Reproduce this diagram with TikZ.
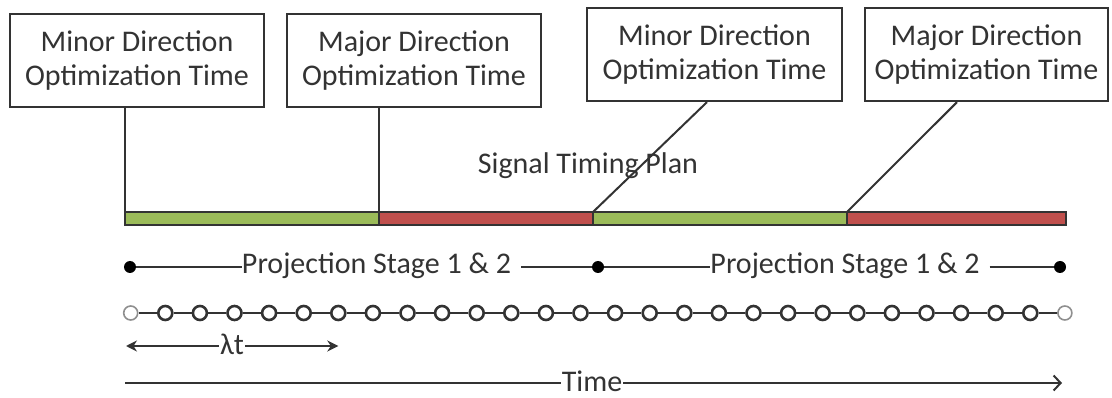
\documentclass[tikz,border=0pt]{standalone}
\usepackage{fontspec}
\setmainfont{Carlito}
\usetikzlibrary{arrows.meta,calc}
\definecolor{ink}{HTML}{333333}
\definecolor{phasegreen}{HTML}{9BBB59}
\definecolor{phasered}{HTML}{C0504D}
\begin{document}
\begin{tikzpicture}[x=1pt,y=-1pt,
  font=\fontsize{30}{34}\selectfont, text=ink,
  optbox/.style={draw=ink, line width=2.2pt, fill=white, align=center,
    minimum height=93pt, inner sep=0pt},
  link/.style={draw=ink, line width=2pt},
  phase/.style={draw=ink, line width=1.6pt},
  tick/.style={circle, draw=ink, line width=2.6pt, fill=white,
    minimum size=14pt, inner sep=0pt},
  endtick/.style={tick, draw=ink!55, line width=1.6pt},
  endpt/.style={circle, fill=black, minimum size=12pt, inner sep=0pt},
  label/.style={fill=white, inner xsep=1pt, inner ysep=2pt, anchor=base}
]
\useasboundingbox (0,0) rectangle (1112,398);

% optimisation time boxes
\node[optbox, minimum width=254pt] (b1) at (137,60.5) {Minor Direction\\Optimization Time};
\node[optbox, minimum width=254pt] (b2) at (414,60.5) {Major Direction\\Optimization Time};
\node[optbox, minimum width=255pt] (b3) at (714.5,54.5) {Minor Direction\\Optimization Time};
\node[optbox, minimum width=243pt] (b4) at (986.5,54.5) {Major Direction\\Optimization Time};

% signal timing plan bar
\node (plan) at (588,166) {Signal Timing Plan};
\coordinate (s0) at (125,212);
\coordinate (s1) at (379,212);
\coordinate (s2) at (593,212);
\coordinate (s3) at (847,212);
\coordinate (s4) at (1066,212);
\filldraw[phase, fill=phasegreen] (s0) rectangle ($(s1)+(0,13)$);
\filldraw[phase, fill=phasered]   (s1) rectangle ($(s2)+(0,13)$);
\filldraw[phase, fill=phasegreen] (s2) rectangle ($(s3)+(0,13)$);
\filldraw[phase, fill=phasered]   (s3) rectangle ($(s4)+(0,13)$);

% links from boxes to phase boundaries
\draw[link] (b1.south -| s0) -- (s0);
\draw[link] (b2.south -| s1) -- (s1);
\draw[link] ($(b3.south)+(-7.5,0)$) -- (s2);
\draw[link] ($(b4.south)+(-29.5,0)$) -- (s3);

% projection stages
\node[endpt] (d0) at (130,267) {};
\node[endpt] (d1) at (598,267) {};
\node[endpt] (d2) at (1060,267) {};
\node[anchor=base, inner xsep=0pt] (pr1) at (376.5,274) {Projection Stage 1 \& 2};
\node[anchor=base, inner xsep=0pt] (pr2) at (845,274) {Projection Stage 1 \& 2};
\draw[link] (d0) -- (pr1.west |- d0);
\draw[link] ($(pr1.east |- d1)+(10,0)$) -- (d1);
\draw[link] (d1) -- (pr2.west |- d1);
\draw[link] ($(pr2.east |- d2)+(10,0)$) -- (d2);

% time steps
\foreach \i in {1,...,26}
  \node[tick] (c\i) at ({130.7+34.6*\i},313) {};
\node[endtick] (c0) at (130.7,313) {};
\node[endtick] (c27) at ({130.7+34.6*27},313) {};
\foreach \i [evaluate=\i as \j using int(\i+1)] in {0,...,26}
  \draw[link] (c\i) -- (c\j);

% step length
\coordinate (l0) at (126,346);
\coordinate (l1) at (c6 |- l0);
\draw[link, {Stealth[length=11pt,width=11pt]}-{Stealth[length=11pt,width=11pt]}] (l0) -- (l1);
\node[label] (lam) at (232,354) {λt};

% time axis
\coordinate (t0) at (125,383);
\coordinate (t1) at (1062,383);
\draw[link, -{Straight Barb[length=7pt,width=15pt]}] (t0) -- (t1);
\node[label] (tlabel) at (592,391) {Time};
\end{tikzpicture}
\end{document}
